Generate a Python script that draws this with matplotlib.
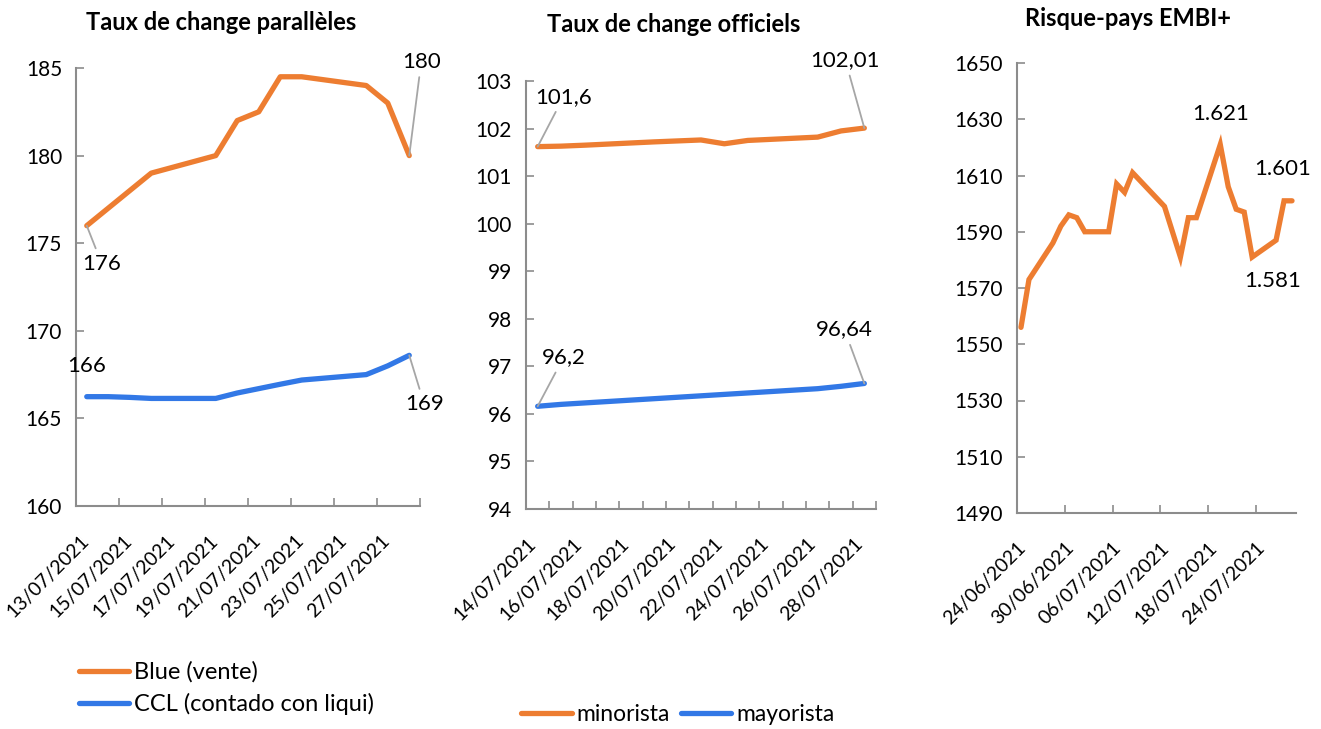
import datetime as dt
import matplotlib
matplotlib.use("Agg")
import matplotlib.pyplot as plt
import matplotlib.dates as mdates
import matplotlib.transforms as mtrans
import numpy as np

plt.rcParams['font.family'] = ['Lato', 'DejaVu Sans']

ORANGE = '#ED7D31'
BLUE = '#3278E6'
GREY = '#8C8C8C'
LEADER = '#A6A6A6'

# --- data ---
par_dates = ['2021-07-13', '2021-07-14', '2021-07-15', '2021-07-16', '2021-07-19', '2021-07-20',
             '2021-07-21', '2021-07-22', '2021-07-23', '2021-07-26', '2021-07-27', '2021-07-28']
blue_vente = [176, 177, 178, 179, 180, 182, 182.5, 184.5, 184.5, 184, 183, 180]
ccl = [166.24, 166.24, 166.2, 166.14, 166.14, 166.45, 166.7, 166.95, 167.19, 167.5, 168.0, 168.6]

off_dates = ['2021-07-14', '2021-07-15', '2021-07-16', '2021-07-19', '2021-07-20', '2021-07-21',
             '2021-07-22', '2021-07-23', '2021-07-26', '2021-07-27', '2021-07-28']
minorista = [101.62, 101.63, 101.65, 101.72, 101.74, 101.76, 101.68, 101.75, 101.82, 101.95, 102.01]
mayorista = [96.16, 96.2, 96.23, 96.32, 96.35, 96.38, 96.41, 96.44, 96.53, 96.58, 96.64]

embi_dates = ['2021-06-24', '2021-06-25', '2021-06-28', '2021-06-29', '2021-06-30', '2021-07-01',
              '2021-07-02', '2021-07-05', '2021-07-06', '2021-07-07', '2021-07-08', '2021-07-12',
              '2021-07-13', '2021-07-14', '2021-07-15', '2021-07-16', '2021-07-19', '2021-07-20',
              '2021-07-21', '2021-07-22', '2021-07-23', '2021-07-26', '2021-07-27', '2021-07-28']
embi = [1556, 1573, 1586, 1592, 1596, 1595, 1590, 1590, 1607, 1604, 1611, 1599,
        1590, 1581, 1595, 1595, 1621, 1606, 1598, 1597, 1581, 1587, 1601, 1601]


def to_x(dates):
    # Excel date axis puts each day's point in the middle of the day slot
    return [mdates.date2num(dt.datetime.fromisoformat(d)) + 0.5 for d in dates]


def dnum(s):
    return mdates.date2num(dt.datetime.fromisoformat(s))


fig = plt.figure(figsize=(13.21, 7.29), dpi=100)
W, H = 1321, 729


def add_ax(x0, y0, x1, y1):
    return fig.add_axes([x0 / W, 1 - y1 / H, (x1 - x0) / W, (y1 - y0) / H])


def style(ax):
    for s in ['top', 'right']:
        ax.spines[s].set_visible(False)
    for s in ['left', 'bottom']:
        ax.spines[s].set_color(GREY)
        ax.spines[s].set_linewidth(1.5)
    ax.tick_params(axis='both', direction='in', color=GREY, width=1.2, length=6, labelsize=15)
    ax.tick_params(axis='y', pad=10)
    ax.tick_params(axis='x', which='minor', direction='in', color=GREY, width=1.2, length=6)
    ax.patch.set_alpha(0)


def date_labels(ax, ticks, labels, dx=5):
    ax.set_xticks(ticks)
    ax.set_xticklabels(labels, rotation=45, ha='right', va='center', rotation_mode='anchor', fontsize=14)
    ax.tick_params(axis='x', pad=23)
    shift = mtrans.ScaledTranslation(dx / 100, 0, fig.dpi_scale_trans)
    for lab in ax.get_xticklabels():
        lab.set_transform(lab.get_transform() + shift)


def note(ax, x, y, txt, dx, dy, leader=True):
    kw = dict(xy=(x, y), xytext=(dx, dy), textcoords='offset pixels', ha='center', va='center',
              fontsize=16, color='black')
    if leader:
        kw['arrowprops'] = dict(arrowstyle='-', color=LEADER, lw=1.3, shrinkA=2, shrinkB=0)
    ax.annotate(txt, **kw)


def title(x, y, txt):
    fig.text(x / W, 1 - y / H, txt, ha='center', va='center', fontsize=17, fontweight='bold')


# ---- left: taux parallèles ----
ax1 = add_ax(76, 68, 420, 506)
style(ax1)
x1 = to_x(par_dates)
l1, = ax1.plot(x1, blue_vente, color=ORANGE, lw=3.8, solid_capstyle='round', label='Blue (vente)')
l2, = ax1.plot(x1, ccl, color=BLUE, lw=3.8, solid_capstyle='round', label='CCL (contado con liqui)')
ax1.set_ylim(160, 185)
ax1.set_yticks(np.arange(160, 186, 5))
ax1.set_xlim(dnum('2021-07-13'), dnum('2021-07-29'))
t1 = [dnum('2021-07-13') + 2 * k for k in range(9)]
date_labels(ax1, t1, [mdates.num2date(t).strftime('%d/%m/%Y') for t in t1[:-1]] + [''], dx=10)
title(221, 23, 'Taux de change parallèles')
note(ax1, x1[0], blue_vente[0], '176', 15, -38)
note(ax1, x1[-1], blue_vente[-1], '180', 12, 94)
note(ax1, x1[0], ccl[0], '166', 0, 31, leader=False)
note(ax1, x1[-1], ccl[-1], '169', 15, -49)
fig.legend(handles=[l1, l2], loc='upper left', bbox_to_anchor=(70 / W, 1 - 652 / H), frameon=False,
           fontsize=17, handlelength=2.1, handletextpad=0.2, labelspacing=0.42, borderaxespad=0)

# ---- middle: taux officiels ----
ax2 = add_ax(526, 81, 876, 509)
style(ax2)
x2 = to_x(off_dates)
m1, = ax2.plot(x2, minorista, color=ORANGE, lw=3.8, solid_capstyle='round', label='minorista')
m2, = ax2.plot(x2, mayorista, color=BLUE, lw=3.8, solid_capstyle='round', label='mayorista')
ax2.set_ylim(94, 103)
ax2.set_yticks(np.arange(94, 104, 1))
ax2.set_xlim(dnum('2021-07-14'), dnum('2021-07-29'))
t2 = [dnum('2021-07-14') + 2 * k for k in range(8)]
date_labels(ax2, t2, [mdates.num2date(t).strftime('%d/%m/%Y') for t in t2], dx=7)
ax2.set_xticks([dnum('2021-07-14') + k for k in range(16)], minor=True)
title(674, 25, 'Taux de change officiels')
note(ax2, x2[0], minorista[0], '101,6', 26, 50)
note(ax2, x2[-1], minorista[-1], '102,01', -19, 68)
note(ax2, x2[0], mayorista[0], '96,2', 26, 49)
note(ax2, x2[-1], mayorista[-1], '96,64', -20, 54)
fig.legend(handles=[m1, m2], loc='upper left', bbox_to_anchor=(512 / W, 1 - 695 / H), frameon=False,
           fontsize=16.5, ncol=2, handlelength=2.2, handletextpad=0.2, columnspacing=0.5, borderaxespad=0)

# ---- right: EMBI ----
ax3 = add_ax(1017, 63, 1296, 513)
style(ax3)
x3 = to_x(embi_dates)
ax3.plot(x3, embi, color=ORANGE, lw=3.8, solid_capstyle='round', solid_joinstyle='miter')
ax3.set_ylim(1490, 1650)
ax3.set_yticks(np.arange(1490, 1651, 20))
ax3.set_xlim(dnum('2021-06-24'), dnum('2021-06-24') + 35)
t3 = [dnum('2021-06-24') + 6 * k for k in range(6)]
date_labels(ax3, t3, [mdates.num2date(t).strftime('%d/%m/%Y') for t in t3], dx=6)
title(1128, 19, 'Risque-pays EMBI+')
i_max = embi_dates.index('2021-07-19')
i_min = embi_dates.index('2021-07-23')
note(ax3, x3[i_max], embi[i_max], '1.621', 0, 31, leader=False)
note(ax3, x3[-1], embi[-1], '1.601', -9, 32, leader=False)
note(ax3, x3[i_min], embi[i_min], '1.581', 20, -24, leader=False)

fig.savefig('out.png', dpi=100)
